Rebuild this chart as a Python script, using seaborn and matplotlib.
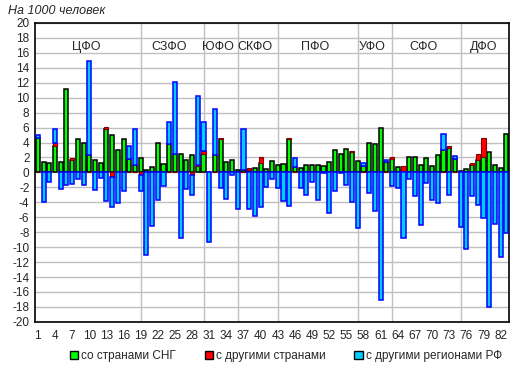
import numpy as np
import seaborn as sns
import matplotlib.pyplot as plt
from matplotlib.patches import Patch

# миграционный прирост на 1000 человек по регионам (1..83)
regions = list(range(1, 84))
cis = [4.6, 1.35, 1.3, 3.55, 1.4, 11.15, 1.7, 4.45, 3.9, 2.35,
       1.6, 1.25, 5.8, 5.05, 3.0, 4.45, 1.8, 0.95, 1.95, 0.35,
       0.7, 3.9, 1.1, 3.75, 2.45, 2.45, 1.7, 2.3, 0.8, 2.45,
       0.1, 2.35, 4.45, 1.35, 1.7, 0.3, 0.3, 0.35, 0.6, 1.25,
       0.45, 1.5, 0.95, 1.1, 4.45, 0.7, 0.6, 1.05, 1.05, 1.0,
       0.85, 1.45, 2.95, 2.45, 3.1, 2.7, 1.5, 0.8, 3.9, 3.8,
       5.95, 1.35, 1.8, 0.75, 0.15, 2.1, 2.0, 0.95, 1.9, 0.9,
       2.3, 2.95, 3.25, 1.8, 0.25, 0.4, 1.0, 1.65, 2.1, 2.75,
       1.05, 0.65, 5.15]
other = [0, 0, 0, 0.45, 0, 0, 0.2, 0, 0, 0,
         0, 0, 0.25, -0.6, 0, 0, 0, 0, -0.3, 0,
         0, 0, 0, 0, 0, 0, 0, -0.35, 0.2, 0.45,
         0, 0, 0.2, 0, 0, 0, 0, 0.25, 0, 0.8,
         0, 0, 0, 0, 0.2, 0, 0, 0, 0, 0,
         0, 0, 0, 0, 0, 0.15, 0, 0, 0, 0,
         0, 0, 0.3, 0, 0.65, 0, 0, 0, 0, 0,
         0, 0, 0.25, 0, 0, 0, 0.25, 0.75, 2.5, 0,
         0, 0, 0]
interreg = [0.35, -4.0, -1.3, 1.8, -2.2, -1.7, -1.5, -0.9, -1.7, 12.55,
            -2.35, -0.7, -3.85, -4.0, -4.05, -2.5, 1.75, 4.85, -2.2, -11.05,
            -7.2, -3.7, -1.85, 3.0, 9.65, -8.8, -2.25, -2.65, 9.2, 3.85,
            -9.35, 6.1, -2.1, -3.55, -0.35, -4.9, 5.5, -4.9, -5.9, -4.65,
            -1.95, -0.9, -2.1, -3.85, -4.5, 1.25, -2.1, -3.0, -1.3, -3.7,
            -0.1, -5.45, -2.5, -0.1, -1.7, -4.0, -7.5, 0.45, -2.75, -5.2,
            -17.1, 0.3, -1.85, -2.1, -8.8, -0.9, -3.15, -7.05, -1.45, -3.7,
            -4.1, 2.2, -3.0, 0.4, -7.3, -10.25, -3.15, -4.35, -6.1, -18.0,
            -6.9, -11.3, -8.1]

districts = ["ЦФО", "СЗФО", "ЮФО", "СКФО", "ПФО", "УФО", "СФО", "ДФО"]
district_sizes = [18, 11, 6, 7, 14, 6, 12, 9]

sns.set_theme(style="white")
plt.rcParams['font.family'] = ['Liberation Sans', 'DejaVu Sans']
plt.rcParams['axes.unicode_minus'] = False

green = np.array(cis)
red = np.array(other)
blue = np.array(interreg)
x = np.arange(len(regions))

red_bottom = np.where(red > 0, green, 0)
blue_bottom = np.where(blue > 0, green + np.clip(red, 0, None), np.clip(red, None, 0))

fig = plt.figure(figsize=(5.2, 3.76), dpi=100)
ax = fig.add_axes([0.0673, 0.144, 0.912, 0.795])

w = 0.72
ax.bar(x, green, width=w, color="#00ff00", edgecolor="black", linewidth=1.1, zorder=3)
ax.bar(x, red, bottom=red_bottom, width=w, color="#ff0000", edgecolor="#800000", linewidth=0.8, zorder=3)
ax.bar(x, blue, bottom=blue_bottom, width=w, color="#00ccff", edgecolor="#0000ff", linewidth=1.1, zorder=3)

# границы и подписи федеральных округов
starts = np.cumsum([0] + district_sizes)
for b in starts[1:-1]:
    ax.axvline(b, color="#c0c0c0", linewidth=1.0, zorder=1)
for name, s, n in zip(districts, starts[:-1], district_sizes):
    ax.text(s + (n - 1) / 2, 16.8, name, ha="center", va="center", fontsize=9, zorder=4)

ax.set_xlim(-0.5, len(regions) - 0.5)
ax.set_ylim(-20, 20)
ax.set_yticks(np.arange(-20, 21, 2))
ax.yaxis.grid(True, color="#c0c0c0", linewidth=1.0, zorder=0)
ax.set_xticks(x[::3])
ax.set_xticklabels([str(r) for r in regions[::3]])
ax.tick_params(axis="both", length=0, labelsize=8.5)
ax.tick_params(axis="x", pad=6)
ax.tick_params(axis="y", pad=4)
for sp in ax.spines.values():
    sp.set_color("black")
    sp.set_linewidth(1.2)

fig.text(0.015, 0.97, "На 1000 человек", ha="left", va="center", fontsize=9, style="italic")

handles = [Patch(facecolor="#00ff00", edgecolor="black"),
           Patch(facecolor="#ff0000", edgecolor="black"),
           Patch(facecolor="#00ccff", edgecolor="black")]
fig.legend(handles, ["со странами СНГ", "с другими странами", "с другими регионами РФ"],
           loc="center", bbox_to_anchor=(0.55, 0.053), ncol=3, frameon=False,
           fontsize=8.5, handlelength=0.7, handleheight=0.7, handletextpad=0.3,
           columnspacing=2.4)

fig.savefig("out.png", dpi=100)
